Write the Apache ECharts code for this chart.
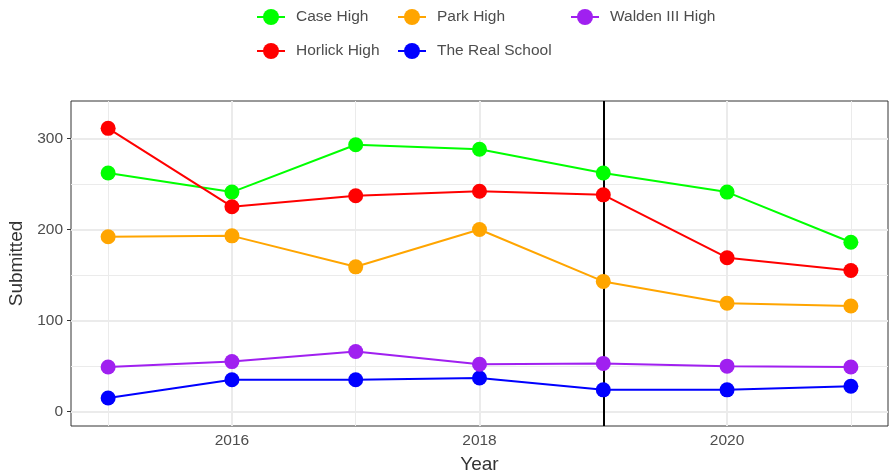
<!DOCTYPE html>
<html><head><meta charset="utf-8">
<script src="https://cdn.jsdelivr.net/npm/echarts@6/dist/echarts.min.js"></script>
<style>html,body{margin:0;padding:0;background:#fff}#c{width:896px;height:474px}</style>
</head><body><div id="c"></div>
<script>
const years = [2015, 2016, 2017, 2018, 2019, 2020, 2021];
const caseHigh = [262, 241, 293, 288, 262, 241, 186];
const horlickHigh = [311, 225, 237, 242, 238, 169, 155];
const parkHigh = [192, 193, 159, 200, 143, 119, 116];
const waldenHigh = [49, 55, 66, 52, 53, 50, 49];
const realSchool = [15, 35, 35, 37, 24, 24, 28];
const xTickLabels = [2016, 2018, 2020];
const xMinorGrid = [2015, 2017, 2019, 2021];
const yTickLabels = [0, 100, 200, 300];
const yMinorGrid = [50, 150, 250];
const cutYear = 2019;

const seriesDefs = [
  {name: 'Case High', data: caseHigh, color: '#00FF00'},
  {name: 'Horlick High', data: horlickHigh, color: '#FF0000'},
  {name: 'Park High', data: parkHigh, color: '#FFA500'},
  {name: 'The Real School', data: realSchool, color: '#0000FF'},
  {name: 'Walden III High', data: waldenHigh, color: '#A020F0'}
];

const FONT = 'Liberation Sans';
const gridCol = '#EBEBEB';
const gridLines = [];
xTickLabels.forEach(v => gridLines.push({xAxis: v, lineStyle: {color: gridCol, width: 2, type: 'solid'}}));
xMinorGrid.forEach(v => gridLines.push({xAxis: v, lineStyle: {color: gridCol, width: 1, type: 'solid'}}));
yTickLabels.forEach(v => gridLines.push({yAxis: v, lineStyle: {color: gridCol, width: 2, type: 'solid'}}));
yMinorGrid.forEach(v => gridLines.push({yAxis: v, lineStyle: {color: gridCol, width: 1, type: 'solid'}}));

const series = [{
  type: 'line', data: [], zlevel: 0, z: 1, silent: true,
  markLine: {silent: true, symbol: 'none', animation: false, label: {show: false}, data: gridLines}
}, {
  type: 'line', data: [], zlevel: 2, z: 5, silent: true,
  markLine: {silent: true, symbol: 'none', animation: false, label: {show: false},
    data: [{xAxis: cutYear, lineStyle: {color: '#000', width: 2, type: 'solid'}}]}
}];
seriesDefs.forEach(s => series.push({
  name: s.name, type: 'line', zlevel: 1, z: 3,
  data: years.map((y, i) => [y, s.data[i]]),
  symbol: 'circle', symbolSize: 15,
  itemStyle: {color: s.color},
  lineStyle: {color: s.color, width: 2},
  emphasis: {disabled: true}
}));

const legendBase = {
  orient: 'vertical', top: 4, itemWidth: 28, itemHeight: 20, itemGap: 18,
  textStyle: {fontFamily: FONT, fontSize: 15.5, color: '#4D4D4D', padding: [0, 0, 0, 6]},
  selectedMode: false
};

const chart = echarts.init(document.getElementById('c'));
chart.setOption({
  animation: false,
  backgroundColor: '#fff',
  legend: [
    Object.assign({}, legendBase, {left: 251, data: ['Case High', 'Horlick High']}),
    Object.assign({}, legendBase, {left: 392, data: ['Park High', 'The Real School']}),
    Object.assign({}, legendBase, {left: 565, data: ['Walden III High']})
  ],
  grid: {left: 71, right: 8, top: 101, bottom: 48, containLabel: false, outerBoundsMode: 'none',
    show: true, borderColor: '#333333', borderWidth: 1, backgroundColor: 'transparent'},
  xAxis: {
    type: 'value', min: 2014.7, max: 2021.3,
    name: 'Year', nameLocation: 'middle', nameGap: 29,
    nameTextStyle: {fontFamily: FONT, fontSize: 19, color: '#333'},
    axisLine: {show: false},
    splitLine: {show: false},
    axisTick: {show: true, customValues: xTickLabels, length: 4, lineStyle: {color: '#333'}},
    axisLabel: {customValues: xTickLabels, fontFamily: FONT, fontSize: 15.5, color: '#4D4D4D', margin: 7, formatter: v => String(v)}
  },
  yAxis: {
    type: 'value', min: -15.7, max: 341,
    name: 'Submitted', nameLocation: 'middle', nameGap: 43, nameRotate: 90,
    nameTextStyle: {fontFamily: FONT, fontSize: 19, color: '#333'},
    axisLine: {show: false},
    splitLine: {show: false},
    axisTick: {show: true, customValues: yTickLabels, length: 4, lineStyle: {color: '#333'}},
    axisLabel: {customValues: yTickLabels, fontFamily: FONT, fontSize: 15.5, color: '#4D4D4D', margin: 8}
  },
  series: series
});
</script></body></html>
